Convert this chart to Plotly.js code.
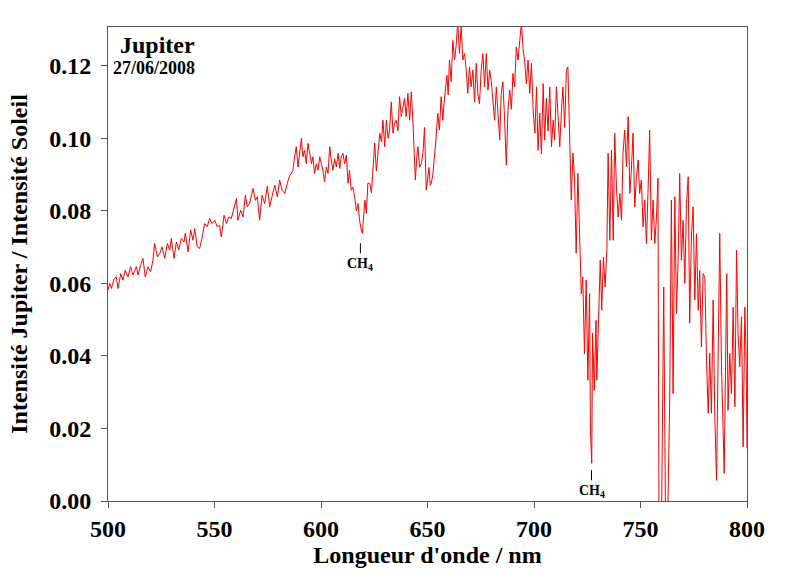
<!DOCTYPE html>
<html>
<head>
<meta charset="utf-8">
<script src="https://cdn.plot.ly/plotly-3.0.1.min.js"></script>
<style>
  body { margin: 0; background: #fff; }
  #plot { width: 800px; height: 575px; }
</style>
</head>
<body>
<div id="plot"></div>
<script>
// spectre de Jupiter divisé par le spectre solaire
var wavelength = [
  500.0, 500.8, 501.6, 502.8, 503.9, 504.7, 506.0, 507.0, 508.1, 509.4,
  510.6, 511.7, 513.3, 514.1, 515.3, 516.4, 517.5, 518.8, 520.0, 521.1,
  521.9, 523.2, 524.3, 525.4, 526.6, 527.9, 529.0, 529.7, 531.0, 532.1,
  533.2, 534.4, 535.7, 536.3, 537.6, 538.8, 539.9, 540.7, 541.9, 543.0,
  544.1, 545.4, 546.6, 547.7, 548.8, 550.1, 551.3, 552.4, 553.2, 554.5,
  555.6, 556.7, 557.9, 559.2, 560.3, 561.0, 562.3, 563.4, 564.5, 565.4,
  566.5, 568.1, 569.2, 570.1, 571.2, 572.3, 573.6, 574.8, 575.9, 577.0,
  578.3, 579.5, 580.6, 581.7, 583.0, 584.2, 585.3, 586.1, 586.8, 587.6,
  588.4, 589.2, 590.0, 590.8, 591.5, 592.3, 593.1, 593.9, 594.7, 595.5,
  596.2, 597.0, 597.8, 598.6, 599.4, 600.1, 600.9, 601.7, 602.5, 603.3,
  604.1, 604.8, 605.6, 606.4, 607.2, 608.0, 608.8, 609.5, 610.3, 611.1,
  611.9, 612.7, 613.4, 614.2, 615.0, 615.8, 616.6, 617.4, 618.1, 618.9,
  619.4, 620.6, 621.3, 622.0, 622.9, 623.7, 624.4, 625.2, 626.0, 626.8,
  627.6, 628.4, 629.1, 629.9, 630.7, 631.5, 632.2, 633.0, 633.8, 634.5,
  635.3, 636.1, 636.9, 637.7, 638.4, 639.2, 640.0, 640.8, 641.6, 642.4,
  643.2, 643.8, 644.3, 645.0, 645.5, 646.3, 647.1, 647.9, 648.6, 649.4,
  650.1, 650.7, 651.3, 651.8, 652.5, 653.3, 654.1, 654.8, 655.6, 656.4,
  657.2, 657.8, 658.4, 659.1, 659.7, 660.3, 661.1, 661.9, 662.7, 663.4,
  664.2, 665.0, 665.8, 666.6, 667.4, 668.2, 668.9, 669.7, 670.5, 671.3,
  672.1, 672.9, 673.6, 674.4, 675.2, 676.0, 676.8, 677.6, 678.4, 679.2,
  679.9, 680.7, 681.5, 682.3, 683.1, 683.9, 684.6, 685.4, 686.2, 687.0,
  687.8, 688.6, 689.4, 690.1, 690.9, 691.7, 692.5, 693.3, 694.1, 694.9,
  695.6, 696.4, 697.2, 698.0, 698.8, 699.6, 700.4, 701.2, 701.9, 702.7,
  703.5, 704.3, 705.0, 705.8, 706.6, 707.4, 708.2, 709.0, 709.7, 710.5,
  711.3, 712.1, 712.9, 713.6, 714.4, 715.2, 715.9, 716.7, 717.5, 718.3,
  719.0, 719.8, 720.6, 721.4, 722.2, 722.9, 723.7, 724.5, 725.3, 726.1,
  726.5, 727.1, 727.5, 728.3, 729.1, 729.5, 730.3, 731.1, 731.8, 732.6,
  733.4, 734.2, 734.8, 735.6, 736.4, 737.2, 737.9, 738.7, 739.5, 740.3,
  741.1, 741.8, 742.6, 743.4, 744.2, 745.0, 745.7, 746.5, 747.3, 748.1,
  748.9, 749.6, 750.4, 751.2, 752.0, 752.8, 753.6, 754.3, 755.1, 755.9,
  756.7, 757.5, 758.2, 758.7, 759.8, 760.9, 761.8, 762.6, 763.7, 764.5,
  765.3, 766.1, 766.9, 767.7, 768.4, 769.2, 770.0, 770.8, 771.6, 772.4,
  773.1, 773.9, 774.7, 775.5, 776.3, 777.1, 777.8, 778.6, 779.4, 780.2,
  781.0, 781.8, 782.5, 783.3, 784.1, 784.9, 785.7, 786.5, 787.2, 788.0,
  788.8, 789.3, 789.9, 790.5, 791.1, 791.9, 792.7, 793.5, 794.3, 795.1,
  795.8, 796.6, 797.4, 798.2, 799.0, 799.6, 800.0
];

var ratio = [
  0.0581, 0.0600, 0.0586, 0.0613, 0.0618, 0.0586, 0.0627, 0.0609, 0.0636, 0.0618,
  0.0646, 0.0623, 0.0646, 0.0623, 0.0650, 0.0669, 0.0618, 0.0646, 0.0632, 0.0664,
  0.0710, 0.0673, 0.0682, 0.0701, 0.0669, 0.0710, 0.0692, 0.0724, 0.0669, 0.0714,
  0.0692, 0.0724, 0.0714, 0.0739, 0.0687, 0.0747, 0.0719, 0.0751, 0.0701, 0.0696,
  0.0724, 0.0765, 0.0756, 0.0779, 0.0765, 0.0774, 0.0756, 0.0761, 0.0728, 0.0788,
  0.0765, 0.0783, 0.0779, 0.0811, 0.0834, 0.0774, 0.0802, 0.0783, 0.0843, 0.0811,
  0.0820, 0.0862, 0.0829, 0.0839, 0.0774, 0.0843, 0.0820, 0.0868, 0.0811, 0.0839,
  0.0871, 0.0839, 0.0885, 0.0857, 0.0848, 0.0876, 0.0898, 0.0903, 0.0912, 0.0949,
  0.0977, 0.0921, 0.0967, 0.1000, 0.0949, 0.0967, 0.0930, 0.0986, 0.0959, 0.0930,
  0.0949, 0.0903, 0.0930, 0.0912, 0.0949, 0.0930, 0.0912, 0.0880, 0.0921, 0.0903,
  0.0977, 0.0940, 0.0912, 0.0944, 0.0921, 0.0959, 0.0917, 0.0949, 0.0959, 0.0930,
  0.0954, 0.0876, 0.0912, 0.0857, 0.0866, 0.0839, 0.0800, 0.0820, 0.0774, 0.0747,
  0.0738, 0.0830, 0.0793, 0.0876, 0.0876, 0.0850, 0.0930, 0.0987, 0.0910, 0.0960,
  0.1014, 0.0990, 0.1050, 0.0977, 0.1050, 0.1000, 0.1023, 0.1100, 0.1014, 0.1040,
  0.1050, 0.1020, 0.1115, 0.1060, 0.1080, 0.1110, 0.1060, 0.1124, 0.1050, 0.1128,
  0.1040, 0.0960, 0.0885, 0.0950, 0.0977, 0.0920, 0.0930, 0.0960, 0.1030, 0.0857,
  0.0900, 0.0920, 0.0870, 0.0876, 0.0900, 0.0949, 0.1004, 0.1069, 0.1023, 0.1115,
  0.1050, 0.1100, 0.1142, 0.1174, 0.1120, 0.1216, 0.1156, 0.1270, 0.1216, 0.1252,
  0.1320, 0.1234, 0.1310, 0.1216, 0.1234, 0.1188, 0.1124, 0.1197, 0.1142, 0.1188,
  0.1100, 0.1207, 0.1124, 0.1096, 0.1188, 0.1234, 0.1142, 0.1234, 0.1133, 0.1188,
  0.1160, 0.1115, 0.1050, 0.1142, 0.1070, 0.0995, 0.1124, 0.1156, 0.1050, 0.0926,
  0.1078, 0.1133, 0.1080, 0.1179, 0.1142, 0.1252, 0.1216, 0.1262, 0.1320, 0.1243,
  0.1216, 0.1151, 0.1216, 0.1124, 0.1207, 0.1078, 0.1014, 0.1142, 0.0967, 0.1070,
  0.0957, 0.1151, 0.0995, 0.1110, 0.1020, 0.1142, 0.0977, 0.1050, 0.0995, 0.1142,
  0.1070, 0.0977, 0.1080, 0.1142, 0.1030, 0.1188, 0.1197, 0.1030, 0.0830, 0.0959,
  0.0894, 0.0683, 0.0903, 0.0738, 0.0572, 0.0618, 0.0406, 0.0609, 0.0333, 0.0572,
  0.0195, 0.0104, 0.0463, 0.0305, 0.0498, 0.0333, 0.0480, 0.0664, 0.0526, 0.0673,
  0.0590, 0.0692, 0.0959, 0.0719, 0.0967, 0.0719, 0.1014, 0.0866, 0.0783, 0.0848,
  0.0774, 0.0959, 0.1023, 0.0921, 0.1060, 0.0848, 0.0912, 0.1014, 0.0811, 0.0894,
  0.0940, 0.0848, 0.0885, 0.0756, 0.0830, 0.0710, 0.0866, 0.1023, 0.0719, 0.0830,
  0.0710, 0.0783, 0.0890, -0.0100, -0.0100, 0.0590, -0.0100, -0.0100, 0.0270, 0.0830,
  0.0296, 0.0839, 0.0517, 0.0673, 0.0903, 0.0664, 0.0774, 0.0600, 0.0820, 0.0894,
  0.0490, 0.0728, 0.0811, 0.0554, 0.0737, 0.0526, 0.0636, 0.0425, 0.0627, 0.0618,
  0.0388, 0.0242, 0.0407, 0.0242, 0.0554, 0.0232, 0.0057, 0.0452, 0.0738, 0.0380,
  0.0149, 0.0076, 0.0360, 0.0627, 0.0250, 0.0407, 0.0296, 0.0535, 0.0260, 0.0692,
  0.0462, 0.0370, 0.0508, 0.0149, 0.0535, 0.0390, 0.0145
];

// bandes du méthane marquées sur la figure
var bandX = [618.5, 727.0];
var bandLabel = ["CH<sub>4</sub>", "CH<sub>4</sub>"];
var bandTop = [0.0711, 0.0085];

var serif = "Liberation Serif, Times New Roman, serif";

var trace = {
  x: wavelength,
  y: ratio,
  type: "scatter",
  mode: "lines",
  line: { color: "#ff0000", width: 1 },
  hoverinfo: "skip"
};

var shapes = bandX.map(function (x, i) {
  return {
    type: "line", xref: "x", yref: "y",
    x0: x, x1: x, y0: bandTop[i], y1: bandTop[i] - 0.0028,
    line: { color: "#000", width: 1 }
  };
});

var annotations = bandX.map(function (x, i) {
  return {
    x: x, y: bandTop[i] - 0.0030, xref: "x", yref: "y",
    text: bandLabel[i], showarrow: false, yanchor: "top",
    font: { family: serif, size: 14, color: "#000", weight: "bold" }
  };
});

annotations.push({
  x: 0.139, y: 0.962, xref: "paper", yref: "paper",
  xanchor: "right", yanchor: "middle", showarrow: false,
  text: "Jupiter",
  font: { family: serif, size: 24, color: "#000", weight: "bold" }
});
annotations.push({
  x: 0.139, y: 0.913, xref: "paper", yref: "paper",
  xanchor: "right", yanchor: "middle", showarrow: false,
  text: "27/06/2008",
  font: { family: serif, size: 18, color: "#000", weight: "bold" }
});

var layout = {
  width: 800,
  height: 575,
  margin: { l: 108, r: 53, t: 27, b: 74 },
  paper_bgcolor: "#fff",
  plot_bgcolor: "#fff",
  showlegend: false,
  font: { family: serif, color: "#000" },
  xaxis: {
    range: [500, 800],
    tickvals: [500, 550, 600, 650, 700, 750, 800],
    ticks: "outside", ticklen: 6, tickcolor: "#555", tickwidth: 1,
    showline: true, linecolor: "#555", linewidth: 1, mirror: true,
    showgrid: false, zeroline: false,
    tickfont: { family: serif, size: 24, weight: "bold" },
    title: { text: "Longueur d'onde / nm", standoff: 4,
             font: { family: serif, size: 24, weight: "bold" } }
  },
  yaxis: {
    range: [0, 0.1307],
    tickvals: [0, 0.02, 0.04, 0.06, 0.08, 0.10, 0.12],
    tickformat: ".2f",
    ticks: "outside", ticklen: 6, tickcolor: "#555", tickwidth: 1,
    ticklabelstandoff: 5,
    showline: true, linecolor: "#555", linewidth: 1, mirror: true,
    showgrid: false, zeroline: false,
    tickfont: { family: serif, size: 24, weight: "bold" },
    title: { text: "Intensité Jupiter / Intensité Soleil", standoff: 14,
             font: { family: serif, size: 24, weight: "bold" } }
  },
  shapes: shapes,
  annotations: annotations
};

Plotly.newPlot("plot", [trace], layout, { displayModeBar: false, staticPlot: true });
</script>
</body>
</html>
